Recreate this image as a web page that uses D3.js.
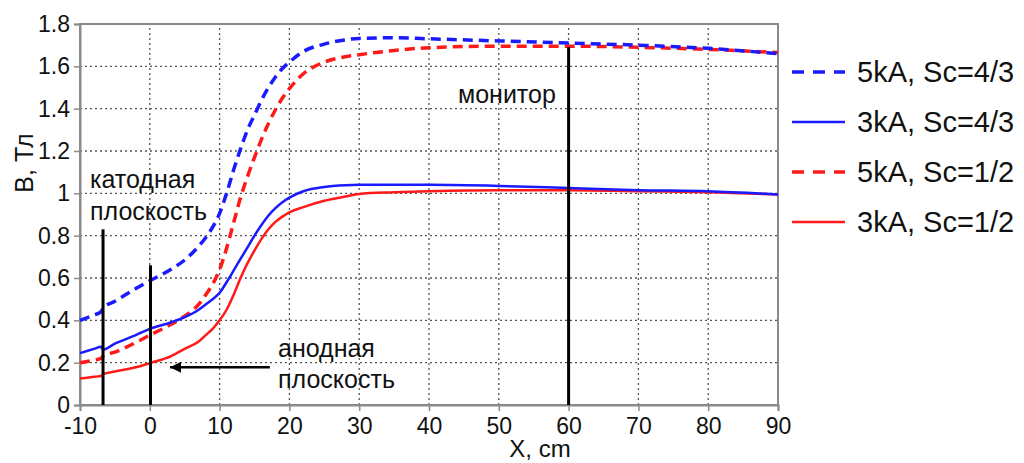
<!DOCTYPE html>
<html>
<head>
<meta charset="utf-8">
<script src="https://cdn.jsdelivr.net/npm/d3@7"></script>
<style>
  body { margin: 0; background: #fff; }
  text { font-family: "Liberation Sans", Arial, sans-serif; fill: #111; }
</style>
</head>
<body>
<div id="chart"></div>
<script>
// x positions, cm
const xs = [-10, -8, -7, -6.7, -5, -2, 0, 3, 5, 7, 8, 9, 10, 11, 12, 13, 14, 15, 16, 17, 18, 19, 20, 22, 25, 28, 30, 35, 40, 50, 60, 70, 80, 90];

// B, Тл
const b5kA43 = [0.40, 0.425, 0.44, 0.458, 0.49, 0.55, 0.587, 0.64, 0.685, 0.75, 0.79, 0.84, 0.905, 1.0, 1.11, 1.21, 1.30, 1.37, 1.44, 1.50, 1.55, 1.59, 1.62, 1.67, 1.705, 1.725, 1.732, 1.735, 1.73, 1.72, 1.71, 1.70, 1.685, 1.66];
const b3kA43 = [0.245, 0.265, 0.275, 0.262, 0.29, 0.33, 0.36, 0.39, 0.415, 0.45, 0.475, 0.50, 0.53, 0.58, 0.635, 0.69, 0.745, 0.80, 0.85, 0.895, 0.93, 0.958, 0.98, 1.01, 1.03, 1.038, 1.04, 1.04, 1.04, 1.035, 1.025, 1.015, 1.01, 0.995];
const b5kA12 = [0.20, 0.212, 0.22, 0.232, 0.25, 0.295, 0.33, 0.38, 0.42, 0.475, 0.52, 0.57, 0.64, 0.74, 0.86, 0.98, 1.08, 1.17, 1.255, 1.33, 1.395, 1.45, 1.495, 1.565, 1.62, 1.645, 1.655, 1.675, 1.688, 1.695, 1.695, 1.69, 1.68, 1.665];
const b3kA12 = [0.125, 0.133, 0.137, 0.146, 0.158, 0.178, 0.198, 0.23, 0.265, 0.30, 0.33, 0.36, 0.40, 0.45, 0.52, 0.60, 0.67, 0.73, 0.785, 0.83, 0.865, 0.89, 0.91, 0.935, 0.965, 0.985, 0.997, 1.005, 1.01, 1.015, 1.015, 1.01, 1.005, 0.995];

const seriesNames = ["5kA, Sc=4/3", "3kA, Sc=4/3", "5kA, Sc=1/2", "3kA, Sc=1/2"];
const xTicks = [-10, 0, 10, 20, 30, 40, 50, 60, 70, 80, 90];
const yTicks = [0, 0.2, 0.4, 0.6, 0.8, 1, 1.2, 1.4, 1.6, 1.8];

const series = [
  { name: seriesNames[3], values: b3kA12, color: "#ff1a1a", dash: null, w: 2.5 },
  { name: seriesNames[2], values: b5kA12, color: "#ff1a1a", dash: "10,6", w: 3.5 },
  { name: seriesNames[1], values: b3kA43, color: "#1a1aff", dash: null, w: 2.5 },
  { name: seriesNames[0], values: b5kA43, color: "#1a1aff", dash: "10,6", w: 3.5 }
];

const width = 1024, height = 463;
const margin = { top: 24, right: 246, bottom: 58, left: 80 };

const svg = d3.select("#chart").append("svg")
  .attr("width", width)
  .attr("height", height);

const x = d3.scaleLinear().domain([-10, 90]).range([margin.left, width - margin.right]);
const y = d3.scaleLinear().domain([0, 1.8]).range([height - margin.bottom, margin.top]);

// grid
svg.append("g").selectAll("line")
  .data(xTicks.slice(1, -1))
  .enter().append("line")
  .attr("x1", d => x(d)).attr("x2", d => x(d))
  .attr("y1", y(0)).attr("y2", y(1.8))
  .attr("stroke", "#555").attr("stroke-width", 1.3).attr("stroke-dasharray", "2,3");
svg.append("g").selectAll("line")
  .data(yTicks.slice(1, -1))
  .enter().append("line")
  .attr("x1", x(-10)).attr("x2", x(90))
  .attr("y1", d => y(d)).attr("y2", d => y(d))
  .attr("stroke", "#555").attr("stroke-width", 1.3).attr("stroke-dasharray", "2,3");

// frame
svg.append("rect")
  .attr("x", x(-10)).attr("y", y(1.8))
  .attr("width", x(90) - x(-10)).attr("height", y(0) - y(1.8))
  .attr("fill", "none").attr("stroke", "#8a8a8a").attr("stroke-width", 2);

// axes
const xAxis = svg.append("g")
  .attr("transform", `translate(0,${y(0)})`)
  .call(d3.axisBottom(x).tickValues(xTicks).tickSize(6).tickPadding(7).tickFormat(d => String(d)));
const yAxis = svg.append("g")
  .attr("transform", `translate(${x(-10)},0)`)
  .call(d3.axisLeft(y).tickValues(yTicks).tickSize(6).tickPadding(4).tickFormat(d => String(+d.toFixed(1))));
[xAxis, yAxis].forEach(a => {
  a.select(".domain").attr("stroke", "#8a8a8a").attr("stroke-width", 2);
  a.selectAll(".tick line").attr("stroke", "#8a8a8a").attr("stroke-width", 1.5);
  a.selectAll(".tick text").attr("font-size", 23).attr("fill", "#111")
    .attr("font-family", "'Liberation Sans', Arial, sans-serif");
});

// curves
const line = d3.line()
  .x((d, i) => x(xs[i]))
  .y(d => y(d))
  .curve(d3.curveMonotoneX);

svg.append("g").selectAll("path")
  .data(series)
  .enter().append("path")
  .attr("d", d => line(d.values))
  .attr("fill", "none")
  .attr("stroke", d => d.color)
  .attr("stroke-width", d => d.w)
  .attr("stroke-dasharray", d => d.dash);

// annotation lines
const marks = [
  { x: -6.7, top: 0.83 },
  { x: 0.1, top: 0.66 },
  { x: 60, top: 1.69 }
];
svg.append("g").selectAll("line")
  .data(marks)
  .enter().append("line")
  .attr("x1", d => x(d.x)).attr("x2", d => x(d.x))
  .attr("y1", d => y(d.top)).attr("y2", y(0))
  .attr("stroke", "#000").attr("stroke-width", 3);

svg.append("defs").append("marker")
  .attr("id", "arr").attr("viewBox", "0 0 10 10")
  .attr("refX", 10).attr("refY", 5)
  .attr("markerWidth", 4.4).attr("markerHeight", 4.4)
  .attr("orient", "auto")
  .append("path").attr("d", "M0,0 L10,5 L0,10 z").attr("fill", "#000");

svg.append("line")
  .attr("x1", x(17.2)).attr("x2", x(2.9))
  .attr("y1", y(0.178)).attr("y2", y(0.178))
  .attr("stroke", "#000").attr("stroke-width", 2.5)
  .attr("marker-end", "url(#arr)");

const notes = [
  { t: "катодная", x: 90, y: 188 },
  { t: "плоскость", x: 90, y: 220 },
  { t: "анодная", x: 278, y: 357 },
  { t: "плоскость", x: 278, y: 388 },
  { t: "монитор", x: 458, y: 103 }
];
svg.append("g").selectAll("text")
  .data(notes)
  .enter().append("text")
  .attr("x", d => d.x).attr("y", d => d.y)
  .attr("font-size", 25)
  .text(d => d.t);

// axis titles
svg.append("text")
  .attr("x", 540).attr("y", 457)
  .attr("text-anchor", "middle").attr("font-size", 24)
  .text("X, cm");
svg.append("text")
  .attr("transform", "translate(33,163) rotate(-90)")
  .attr("text-anchor", "middle").attr("font-size", 25)
  .text("B, Тл");

// legend
const legend = svg.append("g").selectAll("g")
  .data(series.slice().reverse())
  .enter().append("g")
  .attr("transform", (d, i) => `translate(792,${72 + i * 50})`);
legend.append("line")
  .attr("x1", 0).attr("x2", 53)
  .attr("stroke", d => d.color)
  .attr("stroke-width", d => d.w)
  .attr("stroke-dasharray", d => d.dash ? "12,9" : null);
legend.append("text")
  .attr("x", 65).attr("y", 10)
  .attr("font-size", 29)
  .text(d => d.name);
</script>
</body>
</html>
